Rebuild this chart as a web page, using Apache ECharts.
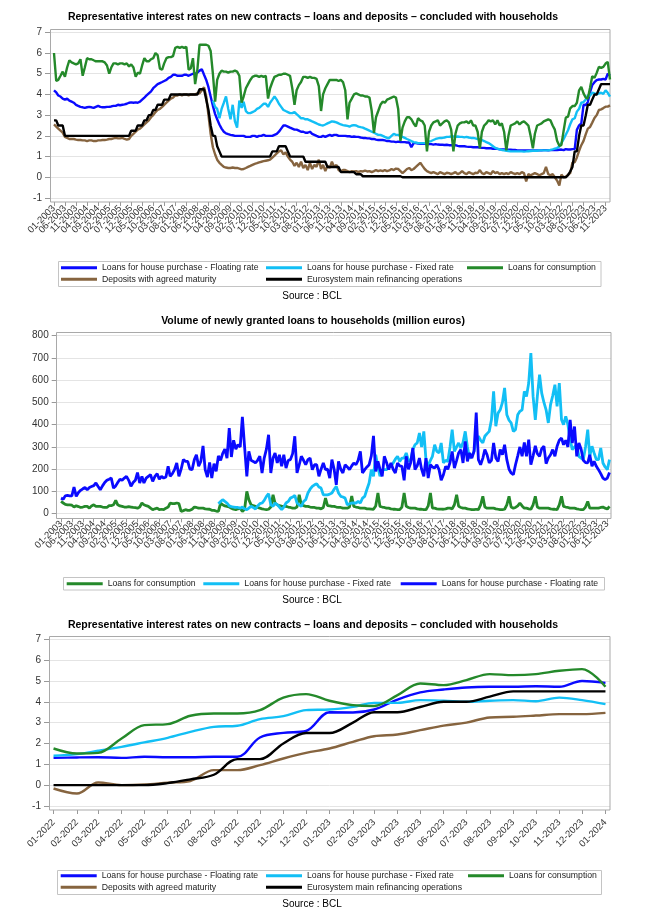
<!DOCTYPE html>
<html>
<head>
<meta charset="utf-8">
<script src="https://cdn.jsdelivr.net/npm/echarts@6/dist/echarts.min.js"></script>
<style>
html,body{margin:0;padding:0;background:#fff;}
#c{width:652px;height:923px;}
</style>
</head>
<body>
<div id="c"></div>
<script>
// ---------------- DATA ----------------
// Names
const nFloat = 'Loans for house purchase - Floating rate';
const nFixed = 'Loans for house purchase - Fixed rate';
const nCons  = 'Loans for consumption';
const nDep   = 'Deposits with agreed maturity';
const nMro   = 'Eurosystem main refinancing operations';

// Panel 1: monthly rates (%), 01-2003 .. 01-2024 (fixed rate from 01-2009)
const rateStart = '01-2003';
const rateFixedStart = '01-2009';
const rateFloat = [
 4.2,4.1,3.95,3.9,3.8,3.75,3.8,3.7,3.65,3.6,3.5,3.45,
 3.4,3.38,3.35,3.38,3.4,3.38,3.35,3.4,3.45,3.4,3.38,3.38,
 3.4,3.4,3.42,3.45,3.45,3.5,3.48,3.5,3.52,3.55,3.6,3.62,
 3.6,3.62,3.6,3.65,3.75,3.85,3.95,4.05,4.15,4.3,4.4,4.5,
 4.55,4.6,4.65,4.7,4.8,4.85,4.95,4.95,4.9,4.9,4.9,4.95,
 4.95,4.9,4.95,5.0,5.0,5.05,5.15,5.22,4.95,4.7,4.35,3.9,
 3.45,3.05,2.8,2.55,2.35,2.2,2.12,2.08,2.05,2.03,2.0,2.0,
 2.0,2.0,2.0,1.95,1.95,1.95,2.0,2.0,1.95,2.0,2.0,2.05,
 2.0,2.0,2.0,2.0,2.05,2.1,2.2,2.35,2.5,2.5,2.45,2.4,
 2.35,2.3,2.3,2.25,2.2,2.2,2.15,2.15,2.2,2.1,2.05,2.0,
 1.95,1.95,2.0,1.95,2.0,2.05,2.0,2.05,2.05,2.0,2.0,2.0,
 2.0,1.98,1.98,1.95,1.97,1.95,1.95,1.92,1.9,1.9,1.88,1.88,
 1.85,1.85,1.82,1.8,1.8,1.8,1.78,1.75,1.75,1.72,1.72,1.7,
 1.72,1.7,1.7,1.7,1.68,1.68,1.45,1.65,1.65,1.63,1.62,1.62,
 1.62,1.6,1.6,1.6,1.58,1.6,1.58,1.57,1.57,1.56,1.57,1.55,
 1.55,1.55,1.55,1.52,1.5,1.5,1.5,1.48,1.47,1.47,1.45,1.45,
 1.45,1.43,1.42,1.42,1.4,1.4,1.4,1.38,1.37,1.37,1.35,1.35,
 1.35,1.33,1.33,1.33,1.32,1.32,1.3,1.3,1.3,1.3,1.3,1.3,
 1.3,1.3,1.3,1.3,1.3,1.3,1.31,1.31,1.3,1.31,1.31,1.31,
 1.31,1.33,1.34,1.31,1.36,1.34,1.34,1.36,1.36,2.29,2.51,2.6,
 3.5,3.49,3.63,4.11,4.45,4.59,4.69,4.72,4.72,4.75,4.72,5.0,
 4.91];
const rateFixed = [
 3.7,3.4,3.3,2.85,3.3,3.6,3.9,3.3,2.8,3.5,2.7,2.4,
 3.7,3.35,3.65,3.2,3.1,3.1,3.15,3.2,3.3,3.35,3.45,3.55,
 3.55,3.4,3.6,3.75,3.9,3.75,3.55,3.4,3.25,3.2,3.15,3.1,
 3.1,3.15,3.05,2.95,2.85,2.85,2.8,2.8,2.75,2.7,2.65,2.6,
 2.55,2.52,2.5,2.55,2.6,2.65,2.7,2.68,2.65,2.6,2.55,2.52,
 2.5,2.48,2.45,2.5,2.52,2.5,2.45,2.42,2.4,2.35,2.3,2.25,
 2.2,2.15,2.1,2.05,2.05,2.0,1.95,1.9,1.9,2.0,2.1,2.05,
 2.05,2.0,1.95,1.9,1.85,1.8,1.75,1.7,1.68,1.65,1.65,1.65,
 1.65,1.68,1.72,1.75,1.8,1.85,1.88,1.9,1.9,1.92,1.95,1.95,
 1.97,1.97,1.95,1.97,1.95,1.95,1.93,1.95,1.92,1.9,1.9,1.88,
 1.85,1.82,1.8,1.75,1.7,1.65,1.58,1.5,1.42,1.38,1.35,1.32,
 1.3,1.28,1.27,1.25,1.25,1.25,1.25,1.25,1.25,1.24,1.25,1.26,
 1.27,1.28,1.28,1.28,1.3,1.3,1.3,1.3,1.3,1.32,1.35,1.38,
 1.41,1.49,1.65,1.84,2.05,2.27,2.56,2.8,2.85,3.17,3.31,3.6,
 3.63,3.76,3.95,3.95,4.08,4.05,4.0,4.05,4.08,4.03,4.2,4.08,
 3.89];
const rateCons = [
 6.0,4.65,4.7,4.9,5.1,4.85,5.3,5.65,5.55,5.5,5.45,5.5,
 5.7,4.9,5.3,5.75,5.7,5.7,5.65,5.6,5.6,5.6,5.6,5.55,
 5.4,5.0,5.3,5.5,5.5,5.45,5.5,5.5,5.45,5.5,5.35,5.45,
 5.3,4.85,5.05,5.0,5.4,5.75,5.6,5.6,5.7,5.75,6.0,5.9,
 5.25,5.2,5.5,5.75,5.8,5.8,5.85,6.25,6.3,6.25,6.3,6.25,
 6.3,5.2,5.25,5.75,4.5,5.2,6.4,6.4,6.4,6.4,6.35,6.1,
 5.0,3.65,4.7,5.0,5.15,5.1,5.1,5.05,5.1,5.1,5.15,5.1,
 4.9,3.6,3.9,4.3,4.5,4.7,4.85,4.9,4.9,4.85,4.9,4.85,
 4.9,3.8,4.3,4.6,4.85,4.9,4.95,4.95,5.0,5.0,4.95,4.9,
 4.3,3.5,4.2,4.45,4.6,4.85,4.85,4.8,4.85,4.8,4.8,4.75,
 4.4,3.2,4.0,4.3,4.5,4.7,4.7,4.7,4.7,4.65,4.7,4.6,
 4.2,2.8,3.6,3.8,4.0,4.05,4.0,3.95,3.95,3.9,3.9,3.85,
 3.2,2.15,2.9,3.2,3.5,3.65,3.6,3.75,3.8,3.85,3.9,3.85,
 3.3,1.75,2.4,2.7,2.9,2.9,2.8,2.6,2.45,2.85,2.75,2.7,
 2.5,1.25,2.2,2.5,2.65,2.7,2.75,2.5,2.6,2.7,2.75,2.65,
 2.3,1.25,2.1,2.5,2.6,2.65,2.65,2.7,2.6,2.75,2.5,2.5,
 2.2,1.4,2.2,2.5,2.6,2.75,2.7,2.75,2.55,2.75,2.5,2.6,
 2.2,1.3,2.0,2.5,2.55,2.6,2.7,2.55,2.65,2.7,2.6,2.5,
 2.0,1.4,2.1,2.5,2.55,2.6,2.7,2.75,2.8,2.75,2.5,2.3,
 1.76,1.52,1.55,2.24,2.88,2.93,3.33,3.44,3.44,3.6,4.2,4.37,
 4.05,3.84,3.8,4.32,4.88,4.8,5.04,5.33,5.28,5.33,5.49,5.57,
 4.72];
const rateDep = [
 2.55,2.45,2.35,2.25,2.15,1.95,1.9,1.85,1.85,1.85,1.82,1.8,
 1.8,1.78,1.78,1.75,1.78,1.78,1.75,1.75,1.78,1.78,1.8,1.8,
 1.82,1.85,1.85,1.88,1.9,1.88,1.88,1.9,1.85,1.82,1.85,2.0,
 2.1,2.2,2.3,2.35,2.45,2.55,2.65,2.75,2.9,3.0,3.15,3.25,
 3.3,3.4,3.5,3.6,3.7,3.8,3.85,3.95,3.95,4.0,3.95,4.0,
 4.0,3.95,4.0,4.0,4.0,4.05,4.05,4.2,4.35,3.9,3.0,2.1,
 1.45,1.1,0.85,0.7,0.6,0.5,0.47,0.45,0.45,0.47,0.45,0.45,
 0.42,0.38,0.4,0.45,0.5,0.55,0.6,0.65,0.68,0.72,0.75,0.78,
 0.8,0.82,0.85,0.95,1.05,1.15,1.25,1.3,1.1,1.2,1.0,0.85,
 0.75,0.55,0.7,0.5,0.75,0.45,0.6,0.35,0.7,0.4,0.6,0.5,
 0.85,0.4,0.6,0.3,0.55,0.45,0.75,0.5,0.6,0.35,0.3,0.35,
 0.35,0.3,0.25,0.3,0.28,0.3,0.25,0.3,0.28,0.32,0.28,0.3,
 0.25,0.3,0.35,0.3,0.33,0.3,0.35,0.3,0.33,0.4,0.35,0.42,
 0.4,0.3,0.2,0.3,0.4,0.45,0.35,0.4,0.5,0.6,0.7,0.55,
 0.4,0.3,0.25,0.2,0.25,0.2,0.15,0.25,0.2,0.15,0.22,0.2,
 0.15,0.2,0.25,0.15,0.2,0.3,0.2,0.15,0.25,0.2,0.15,0.22,
 0.2,0.35,0.2,0.15,0.25,0.2,0.15,0.3,0.2,0.25,0.15,0.2,
 0.15,0.2,0.15,0.25,0.2,0.15,0.2,0.15,0.25,0.2,-0.2,0.15,
 0.1,0.15,0.2,0.15,0.1,0.15,0.2,0.5,0.15,0.1,0.15,0.0,
 -0.16,-0.4,0.13,0.0,0.03,0.12,0.2,0.72,0.72,0.96,1.28,1.55,
 1.76,2.08,2.35,2.43,2.64,2.86,3.0,3.25,3.28,3.34,3.41,3.41,
 3.47];
const rateMro = [
 2.75,2.75,2.5,2.5,2.5,2.0,2.0,2.0,2.0,2.0,2.0,2.0,
 2.0,2.0,2.0,2.0,2.0,2.0,2.0,2.0,2.0,2.0,2.0,2.0,
 2.0,2.0,2.0,2.0,2.0,2.0,2.0,2.0,2.0,2.0,2.0,2.25,
 2.25,2.25,2.5,2.5,2.5,2.75,2.75,3.0,3.0,3.25,3.25,3.5,
 3.5,3.5,3.75,3.75,3.75,4.0,4.0,4.0,4.0,4.0,4.0,4.0,
 4.0,4.0,4.0,4.0,4.0,4.0,4.25,4.25,4.25,3.75,3.25,2.5,
 2.0,2.0,1.5,1.25,1.0,1.0,1.0,1.0,1.0,1.0,1.0,1.0,
 1.0,1.0,1.0,1.0,1.0,1.0,1.0,1.0,1.0,1.0,1.0,1.0,
 1.0,1.0,1.0,1.25,1.25,1.25,1.5,1.5,1.5,1.5,1.25,1.0,
 1.0,1.0,1.0,1.0,1.0,1.0,0.75,0.75,0.75,0.75,0.75,0.75,
 0.75,0.75,0.75,0.75,0.5,0.5,0.5,0.5,0.5,0.5,0.25,0.25,
 0.25,0.25,0.25,0.25,0.25,0.15,0.15,0.15,0.05,0.05,0.05,0.05,
 0.05,0.05,0.05,0.05,0.05,0.05,0.05,0.05,0.05,0.05,0.05,0.05,
 0.05,0.05,0,0,0,0,0,0,0,0,0,0,
 0,0,0,0,0,0,0,0,0,0,0,0,
 0,0,0,0,0,0,0,0,0,0,0,0,
 0,0,0,0,0,0,0,0,0,0,0,0,
 0,0,0,0,0,0,0,0,0,0,0,0,
 0,0,0,0,0,0,0,0,0,0,0,0,
 0,0,0,0,0,0.1,0.28,0.5,1.25,1.25,2.0,2.5,
 2.5,3.0,3.5,3.5,3.75,4.0,4.0,4.25,4.5,4.5,4.5,4.5,
 4.5];

// Panel 2: monthly volumes (million euros), 01-2003 .. 12-2023 (fixed from 01-2009)
const volStart = '01-2003';
const volFixedStart = '01-2009';
const volCons = [
 55,48,42,40,40,38,30,36,32,28,30,33,
 33,25,35,40,33,33,33,30,28,28,36,36,
 40,60,40,35,33,30,30,32,30,28,27,25,
 30,48,40,36,33,25,18,22,25,18,20,18,
 25,30,48,45,45,48,45,10,14,18,15,15,
 20,30,28,25,25,25,22,21,20,15,15,12,
 10,48,40,35,33,30,25,20,18,22,25,10,
 20,100,63,40,36,33,28,25,22,20,18,20,
 30,85,48,40,36,34,33,33,30,28,25,25,
 30,85,40,36,33,33,30,28,28,25,25,22,
 28,70,36,35,33,33,30,28,28,25,25,25,
 30,80,33,30,28,25,25,25,22,22,21,20,
 35,93,33,30,28,25,25,22,20,20,18,18,
 30,93,33,28,25,25,25,22,20,20,18,18,
 35,93,25,25,22,21,21,20,22,25,25,22,
 40,85,33,28,25,25,22,20,18,18,20,18,
 40,78,30,25,25,25,25,22,20,18,18,20,
 40,78,30,25,28,35,48,35,25,25,22,20,
 40,78,30,25,25,25,25,25,22,20,20,18,
 40,78,33,30,28,25,25,25,22,20,18,18,
 30,55,25,25,25,25,25,28,30,25,21,33];
const volFixed = [
 45,55,63,55,48,35,32,30,28,28,25,30,
 22,18,25,33,28,21,35,45,48,60,78,90,
 40,33,48,40,30,18,30,48,55,70,75,82,
 48,40,33,55,63,93,110,123,130,135,120,115,
 85,85,85,88,93,110,123,93,78,75,70,40,
 45,48,48,48,55,48,70,78,110,138,198,168,
 265,210,168,198,198,198,213,213,228,245,258,235,
 250,250,273,240,235,288,310,318,363,300,370,243,
 213,240,258,310,280,273,318,228,240,235,300,378,
 280,300,318,295,320,370,300,250,258,280,333,348,
 330,318,348,360,370,422,550,393,452,467,500,565,
 445,420,408,370,378,445,460,467,550,527,587,722,
 527,422,527,625,542,500,467,408,490,530,580,482,
 587,422,400,437,400,333,288,300,310,258,250,243,
 300,378,258,303,273,243,243,295,228,210,198,243];
const volFloat = [
 70,65,80,82,80,80,120,78,95,105,112,118,
 108,118,122,126,138,122,108,125,140,150,155,160,
 115,125,140,155,150,160,168,150,123,140,150,185,
 138,168,138,160,168,175,145,168,180,155,168,160,
 165,213,168,180,198,228,168,200,243,235,235,200,
 198,243,265,213,235,305,198,165,230,160,225,190,
 260,240,270,290,250,385,255,330,290,310,300,435,
 300,168,280,240,235,228,240,258,183,250,290,355,
 183,250,273,228,265,213,265,205,240,243,270,348,
 183,220,258,240,220,243,250,198,220,220,168,200,
 228,198,200,160,243,200,130,235,200,183,220,210,
 198,215,228,220,240,280,183,198,210,220,260,350,
 190,235,200,168,258,230,198,228,200,183,228,215,
 213,150,258,200,228,295,198,215,250,200,168,250,
 160,220,210,205,220,198,150,175,213,200,230,280,
 205,240,273,288,228,325,235,273,250,280,455,243,
 220,250,288,265,228,240,318,250,235,288,265,310,
 243,200,183,175,220,260,300,258,320,258,333,220,
 260,305,270,258,292,303,225,250,265,288,258,303,
 330,340,310,330,300,422,318,392,258,318,290,240,
 230,228,265,213,235,213,198,180,160,153,160,185];

// Panel 3: 01-2022 .. 01-2024 (same monthly series as panel 1, last 25 months)
const zoomStart = '01-2022';
const zoomCount = 25;

// Tick labels
const ticksLong = ['01-2003','06-2003','11-2003','04-2004','09-2004','02-2005','07-2005','12-2005',
 '05-2006','10-2006','03-2007','08-2007','01-2008','06-2008','11-2008','04-2009','09-2009','02-2010',
 '07-2010','12-2010','05-2011','10-2011','03-2012','08-2012','01-2013','06-2013','11-2013','04-2014',
 '09-2014','02-2015','07-2015','12-2015','05-2016','10-2016','03-2017','08-2017','01-2018','06-2018',
 '11-2018','04-2019','09-2019','02-2020','07-2020','12-2020','05-2021','10-2021','03-2022','08-2022',
 '01-2023','06-2023','11-2023'];
const ticksShort = ['01-2022','02-2022','03-2022','04-2022','05-2022','06-2022','07-2022','08-2022',
 '09-2022','10-2022','11-2022','12-2022','01-2023','02-2023','03-2023','04-2023','05-2023','06-2023',
 '07-2023','08-2023','09-2023','10-2023','11-2023','12-2023','01-2024'];

const title1 = 'Representative interest rates on new contracts \u2013 loans and deposits \u2013 concluded with households';
const title2 = 'Volume of newly granted loans to households (million euros)';
const source = 'Source : BCL';

// ---------------- BUILD ----------------
const FONT = '"Liberation Sans", Arial, Helvetica, sans-serif';
const C = { float:'#0a0aff', fixed:'#12bff5', cons:'#24892a', dep:'#86643f', mro:'#000000' };

function parseMY(s){ const p = s.split('-'); return Date.UTC(+p[1], +p[0]-1, 1); }
function fmtMY(v){ const d = new Date(v); const m = d.getUTCMonth()+1; return (m<10?'0':'')+m+'-'+d.getUTCFullYear(); }
function monthly(start, values){
  const d0 = new Date(parseMY(start));
  return values.map((v,i)=>[Date.UTC(d0.getUTCFullYear(), d0.getUTCMonth()+i, 1), v]);
}

const grids = [
  {left:50, top:32.3, width:560, height:165.7},
  {left:56.7, top:335.7, width:554.3, height:178},
  {left:49, top:639.3, width:561, height:166.7}
].map(g => Object.assign(g, {containLabel:false, outerBoundsMode:'none'}));

// An x axis: tickVals get tick marks, labelVals get labels
function xAxisCfg(idx, min, max, tickVals, labelVals, offset, margin){
  return {
    type:'value', gridIndex:idx, min:min, max:max, offset:offset, position:'bottom',
    axisLine:{show:false, onZero:false},
    axisTick:{show:tickVals.length>0, customValues:tickVals.length?tickVals:labelVals, length:4, lineStyle:{color:'#999'}},
    axisLabel:{show:true, customValues:labelVals, formatter:fmtMY, rotate:45, fontSize:9.5,
      fontFamily:FONT, color:'#333', margin:margin,
      showMinLabel:true, showMaxLabel:true, hideOverlap:false},
    splitLine:{show:false}
  };
}
function yAxisCfg(idx, min, max, interval){
  return {
    type:'value', gridIndex:idx, min:min, max:max, interval:interval,
    axisLine:{show:false, onZero:false},
    axisTick:{show:true, length:5, lineStyle:{color:'#999'}},
    axisLabel:{fontSize:10, fontFamily:FONT, color:'#333', margin:8},
    splitLine:{show:true, lineStyle:{color:'#e4e4e4', width:1}}
  };
}
function line(name, color, data, xi, yi, width, smooth){
  return {type:'line', name:name, xAxisIndex:xi, yAxisIndex:yi, data:data, showSymbol:false,
    symbol:'none', smooth:smooth||false, lineStyle:{color:color, width:width}, itemStyle:{color:color},
    color:color, z:3, animation:false};
}

const longVals = ticksLong.map(parseMY);
const longEven = longVals.filter((v,i)=>i%2===0);
const longOdd  = longVals.filter((v,i)=>i%2===1);
const shortVals = ticksShort.map(parseMY);

const r1 = [Date.UTC(2002,10,7), Date.UTC(2024,0,1)];
const r2 = [Date.UTC(2002,10,2), Date.UTC(2023,11,22)];
const r3 = [Date.UTC(2021,11,26), Date.UTC(2024,0,7)];

const xAxes = [
  xAxisCfg(0, r1[0], r1[1], longVals, longEven, 4, 5),
  xAxisCfg(0, r1[0], r1[1], [], longOdd, 4, 5),
  xAxisCfg(1, r2[0], r2[1], longVals, longEven, 4.6, 4),
  xAxisCfg(1, r2[0], r2[1], [], longOdd, 4.6, 4),
  xAxisCfg(2, r3[0], r3[1], shortVals, shortVals, 4, 11)
];

const zs = a => a.slice(a.length - zoomCount);

const series = [
  line(nFloat, C.float, monthly(rateStart, rateFloat), 0, 0, 2.4),
  line(nFixed, C.fixed, monthly(rateFixedStart, rateFixed), 0, 0, 2.4),
  line(nCons,  C.cons,  monthly(rateStart, rateCons), 0, 0, 2.4),
  line(nDep,   C.dep,   monthly(rateStart, rateDep), 0, 0, 2.4),
  line(nMro,   C.mro,   monthly(rateStart, rateMro), 0, 0, 2.4),

  line(nCons,  C.cons,  monthly(volStart, volCons), 2, 1, 2.8),
  line(nFixed, C.fixed, monthly(volFixedStart, volFixed), 2, 1, 2.8),
  line(nFloat, C.float, monthly(volStart, volFloat), 2, 1, 2.8),

  line(nFloat, C.float, monthly(zoomStart, zs(rateFloat)), 4, 2, 2.4, 0.35),
  line(nFixed, C.fixed, monthly(zoomStart, zs(rateFixed)), 4, 2, 2.4, 0.35),
  line(nCons,  C.cons,  monthly(zoomStart, zs(rateCons)), 4, 2, 2.4, 0.35),
  line(nDep,   C.dep,   monthly(zoomStart, zs(rateDep)), 4, 2, 2.4, 0.35),
  line(nMro,   C.mro,   monthly(zoomStart, zs(rateMro)), 4, 2, 2.4, 0.35)
];

function leg(name, left, top, iw){
  return {show:true, data:[name], left:left, top:top, orient:'horizontal', padding:0,
    icon:'rect', itemWidth:iw||36, itemHeight:3, itemGap:0, selectedMode:false,
    textStyle:{fontSize:8.7, fontFamily:FONT, color:'#222', lineHeight:11}};
}
const legends = [
  leg(nFloat, 61, 262.2), leg(nFixed, 266, 262.2), leg(nCons, 467, 262.2),
  leg(nDep, 61, 273.8), leg(nMro, 266, 273.8),
  leg(nCons, 66.7, 578.2), leg(nFixed, 203.3, 578.2), leg(nFloat, 400.7, 578.2),
  leg(nFloat, 60.7, 870.2), leg(nFixed, 266, 870.2), leg(nCons, 468, 870.2),
  leg(nDep, 60.7, 881.8), leg(nMro, 266, 881.8)
];

function txt(x, y, s, font){
  return {type:'text', x:x, y:y, silent:true,
    style:{text:s, font:font, fill:'#000', textAlign:'center', textVerticalAlign:'middle',
      align:'center', verticalAlign:'middle'}};
}
function box(x, y, w, h, color){
  return {type:'rect', silent:true, z:1, shape:{x:x, y:y, width:w, height:h},
    style:{fill:'none', stroke:color, lineWidth:1}};
}
const TF = 'bold 10.5px ' + FONT;
const SF = '10px ' + FONT;
const graphics = [
  txt(313, 17.3, title1, TF),
  txt(313, 320.7, title2, TF),
  txt(313, 625, title1, TF),
  txt(312, 296, source, SF),
  txt(312, 600, source, SF),
  txt(312, 904, source, SF),
  box(50.5, 29.5, 559.5, 172.5, '#a9a9a9'),
  box(56.5, 332.5, 554.5, 186, '#a9a9a9'),
  box(49.5, 636.5, 560.5, 173.5, '#a9a9a9'),
  box(58.5, 261.5, 542.5, 25, '#c4c4c4'),
  box(63.5, 577.5, 541, 12.5, '#c4c4c4'),
  box(57.5, 870.5, 544, 24, '#c4c4c4')
];

const option = {
  animation:false,
  backgroundColor:'#ffffff',
  textStyle:{fontFamily:FONT},
  grid: grids,
  xAxis: xAxes,
  yAxis: [
    yAxisCfg(0, -1, 7, 1),
    yAxisCfg(1, 0, 800, 100),
    yAxisCfg(2, -1, 7, 1)
  ],
  legend: legends,
  graphic: {elements: graphics},
  series: series
};

const chart = echarts.init(document.getElementById('c'), null, {renderer:'canvas'});
chart.setOption(option);
</script>
</body>
</html>
